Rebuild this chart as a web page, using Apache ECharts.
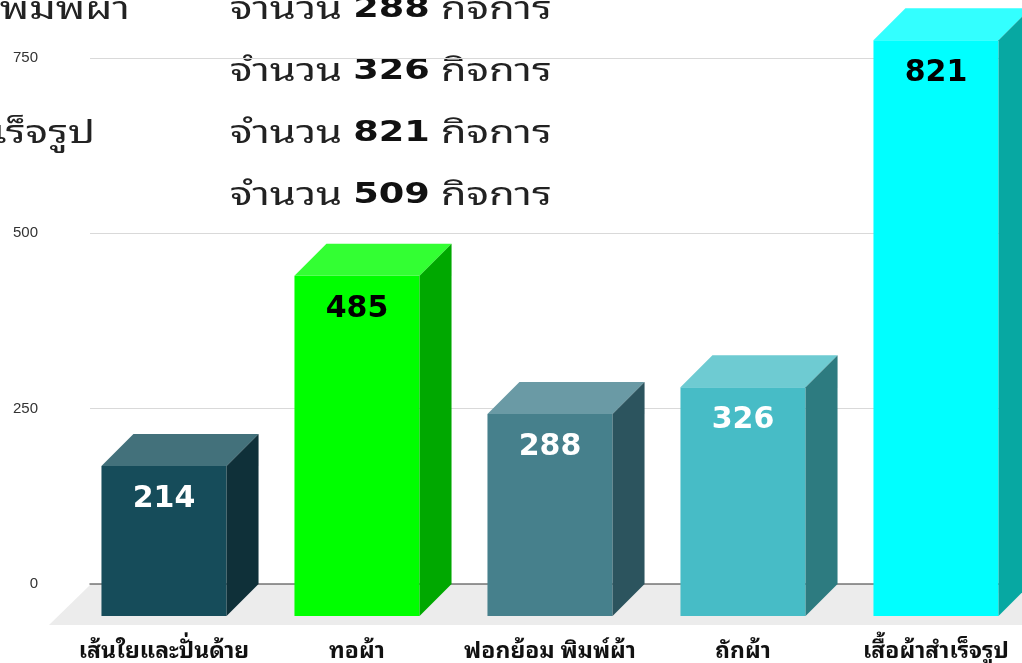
<!DOCTYPE html>
<html>
<head>
<meta charset="utf-8">
<script src="https://cdn.jsdelivr.net/npm/echarts@6/dist/echarts.min.js"></script>
<style>
  html, body { margin: 0; padding: 0; background: #fff; }
  #chart { width: 1022px; height: 663px; }
</style>
</head>
<body>
<div id="chart"></div>
<script>
// ข้อมูล
var categories = ["เส้นใยและปั่นด้าย", "ทอผ้า", "ฟอกย้อม พิมพ์ผ้า", "ถักผ้า", "เสื้อผ้าสำเร็จรูป"];
var values = [214, 485, 288, 326, 821];
var yTicks = [0, 250, 500, 750];
var noteCounts = [288, 326, 821, 509];
var noteNames = ["ฟอกย้อม พิมพ์ผ้า", "", "เสื้อผ้าสำเร็จรูป", ""];

// สี
var frontColors = ["#164c5a", "#00ff00", "#46808c", "#47bcc6", "#00ffff"];
var topColors = ["#43717b", "#33ff33", "#6a9aa5", "#6ecbd2", "#33ffff"];
var sideColors = ["#0f3039", "#00a800", "#2c545e", "#2d7b80", "#07a8a2"];
var labelColors = ["#fff", "#000", "#fff", "#fff", "#000"];

var DEPTH = 32;
var thaiFont = "'Noto Sans Thai Looped', 'Noto Sans Thai', 'Noto Sans', sans-serif";

var chart = echarts.init(document.getElementById("chart"));

// ข้อความกำกับด้านบน (ยืดแนวนอนให้เหมือนฟอนต์ต้นฉบับ)
var notes = [];
noteCounts.forEach(function (n, i) {
  var cy = 10 + i * 62;
  notes.push({
    type: "text",
    x: 230,
    y: cy,
    scaleX: 1.31,
    style: {
      text: "{a|จำนวน }{b|" + n + "}{a| กิจการ}",
      verticalAlign: "middle",
      rich: {
        a: { fontSize: 32, fontFamily: thaiFont, fill: "#222" },
        b: { fontSize: 28, fontWeight: "bold", fontFamily: "DejaVu Sans", fill: "#111" }
      }
    }
  });
  if (noteNames[i]) {
    notes.push({
      type: "text",
      x: i == 0 ? 130 : 95,
      y: cy,
      scaleX: 1.31,
      style: {
        text: noteNames[i],
        fontSize: 32,
        fontFamily: thaiFont,
        fill: "#222",
        align: "right",
        verticalAlign: "middle"
      }
    });
  }
});

chart.setOption({
  animation: false,
  graphic: notes,
  grid: [
    { left: 67.5, width: 965, top: 58, bottom: 79, outerBoundsMode: "none" },
    { left: 90, right: 0, top: 58, bottom: 79, outerBoundsMode: "none" }
  ],
  xAxis: [
    {
      gridIndex: 0,
      type: "category",
      data: categories,
      axisLine: { show: false },
      axisTick: { show: false },
      axisLabel: {
        margin: 56,
        fontSize: 23,
        fontWeight: "bold",
        color: "#111",
        fontFamily: thaiFont,
        interval: 0
      }
    },
    {
      gridIndex: 1,
      type: "value",
      min: 0,
      max: 1,
      axisLabel: { show: false },
      axisTick: { show: false },
      splitLine: { show: false },
      axisLine: { lineStyle: { color: "#777", width: 1.5 } }
    }
  ],
  yAxis: [
    {
      gridIndex: 0,
      type: "value",
      min: 0,
      max: 750,
      interval: 250,
      show: false
    },
    {
      gridIndex: 1,
      type: "value",
      min: yTicks[0],
      max: yTicks[yTicks.length - 1],
      interval: 250,
      axisLine: { show: false },
      axisTick: { show: false },
      axisLabel: { margin: 52, fontSize: 15, color: "#333", fontFamily: "Liberation Sans" },
      splitLine: { lineStyle: { color: "#d9d9d9" } }
    }
  ],
  series: [
    {
      // พื้น
      type: "custom",
      xAxisIndex: 1,
      yAxisIndex: 1,
      z: 1,
      silent: true,
      data: [[0, 0]],
      renderItem: function (params, api) {
        var p0 = api.coord([0, 0]);
        var p1 = api.coord([1, 0]);
        var d = 41;
        return {
          type: "polygon",
          shape: {
            points: [
              [p0[0], p0[1] + 1],
              [p1[0] + 60, p0[1] + 1],
              [p1[0] + 60, p0[1] + d],
              [p0[0] - d, p0[1] + d]
            ]
          },
          style: { fill: "#ececec" }
        };
      }
    },
    {
      type: "custom",
      xAxisIndex: 0,
      yAxisIndex: 0,
      z: 3,
      data: values.map(function (v, i) { return [i, v]; }),
      renderItem: function (params, api) {
        var i = api.value(0);
        var top = api.coord([i, api.value(1)]);
        var base = api.coord([i, 0]);
        var w = api.size([1, 0])[0] * 0.648;
        var d = DEPTH;
        var x0 = top[0] - w / 2, x1 = top[0] + w / 2;
        var yT = top[1] + d, yB = base[1] + d;
        return {
          type: "group",
          children: [
            {
              type: "rect",
              shape: { x: x0, y: yT, width: w, height: yB - yT },
              style: { fill: frontColors[i] }
            },
            {
              type: "polygon",
              shape: { points: [[x0, yT], [x1, yT], [x1 + d, yT - d], [x0 + d, yT - d]] },
              style: { fill: topColors[i] }
            },
            {
              type: "polygon",
              shape: { points: [[x1, yT], [x1 + d, yT - d], [x1 + d, yB - d], [x1, yB]] },
              style: { fill: sideColors[i] }
            },
            {
              type: "text",
              x: top[0],
              y: yT + 33,
              style: {
                text: String(api.value(1)),
                fontSize: 30,
                fontWeight: "bold",
                fontFamily: "DejaVu Sans",
                fill: labelColors[i],
                align: "center",
                verticalAlign: "middle"
              }
            }
          ]
        };
      }
    }
  ]
});
</script>
</body>
</html>
